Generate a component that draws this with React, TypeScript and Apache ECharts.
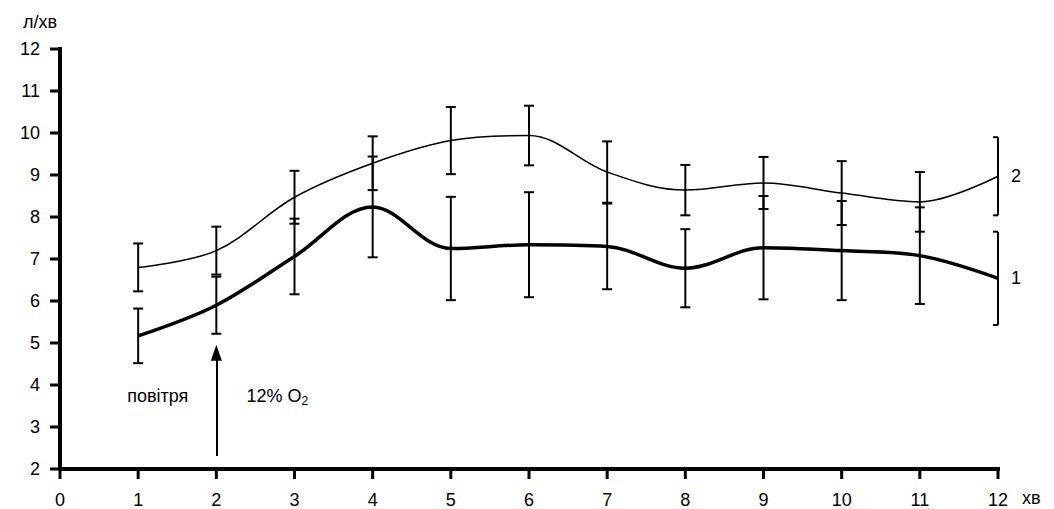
import React, { useEffect, useRef } from "react";
import * as echarts from "echarts";

const minutes = [1, 2, 3, 4, 5, 6, 7, 8, 9, 10, 11, 12];
const air12Mean = [5.17, 5.9, 7.06, 8.24, 7.25, 7.34, 7.3, 6.78, 7.27, 7.2, 7.08, 6.54];
const air12Err = [0.65, 0.68, 0.9, 1.2, 1.23, 1.25, 1.02, 0.93, 1.23, 1.18, 1.15, 1.11];
const line2Mean = [6.8, 7.2, 8.47, 9.28, 9.82, 9.94, 9.07, 8.64, 8.81, 8.57, 8.36, 8.97];
const line2Err = [0.57, 0.57, 0.63, 0.64, 0.8, 0.71, 0.73, 0.6, 0.62, 0.76, 0.71, 0.93];
const xTickValues = [0, 1, 2, 3, 4, 5, 6, 7, 8, 9, 10, 11, 12];
const yTickValues = [2, 3, 4, 5, 6, 7, 8, 9, 10, 11, 12];
const seriesLabels = ["1", "2"];
const arrowFrom = [2, 2.31];
const arrowTo = [2, 4.77];
const noteAir = { text: "повітря", at: [1.25, 3.75] };
const noteGas = { text: "12% O{sub|2}", at: [2.78, 3.75] };

const FONT = "'Liberation Sans', Arial, sans-serif";
const X_MIN = xTickValues[0];
const X_MAX = xTickValues[xTickValues.length - 1];
const Y_MIN = yTickValues[0];
const Y_MAX = yTickValues[yTickValues.length - 1];

function errRows(mean: number[], err: number[]) {
  return minutes.map((m, i) => [m, mean[i] - err[i], mean[i] + err[i]]);
}

function errRender(params: any, api: any) {
  const x = api.value(0);
  const lo = api.value(1);
  const hi = api.value(2);
  const top = api.coord([x, hi]);
  const bot = api.coord([x, lo]);
  const last = x === minutes[minutes.length - 1];
  const l = 5;
  const r = last ? 0 : 5;
  const style = { stroke: "#000", lineWidth: 2 };
  return {
    type: "group",
    children: [
      { type: "line", shape: { x1: top[0], y1: top[1], x2: bot[0], y2: bot[1] }, style },
      { type: "line", shape: { x1: top[0] - l, y1: top[1], x2: top[0] + r, y2: top[1] }, style },
      { type: "line", shape: { x1: bot[0] - l, y1: bot[1], x2: bot[0] + r, y2: bot[1] }, style },
    ],
  };
}

const axisRows = [
  ...xTickValues.map((v) => [v, Y_MIN, 0]),
  ...yTickValues.map((v) => [X_MIN, v, 1]),
];

function axisRender(params: any, api: any) {
  const p = api.coord([api.value(0), api.value(1)]);
  const isY = api.value(2) === 1;
  const tickStyle = { stroke: "#000", lineWidth: 3 };
  const children: any[] = [
    isY
      ? { type: "line", shape: { x1: p[0] - 10, y1: p[1], x2: p[0], y2: p[1] }, style: tickStyle }
      : { type: "line", shape: { x1: p[0], y1: p[1], x2: p[0], y2: p[1] + 10 }, style: tickStyle },
  ];
  if (params.dataIndex === 0) {
    const o = api.coord([X_MIN, Y_MIN]);
    const xe = api.coord([X_MAX, Y_MIN]);
    const ye = api.coord([X_MIN, Y_MAX]);
    const lineStyle = { stroke: "#000", lineWidth: 4, lineCap: "square" };
    children.push({ type: "line", shape: { x1: o[0], y1: o[1], x2: xe[0], y2: xe[1] }, style: lineStyle });
    children.push({ type: "line", shape: { x1: o[0], y1: o[1], x2: ye[0], y2: ye[1] }, style: lineStyle });
  }
  return { type: "group", children };
}

function makeAxis(isX: boolean) {
  const vals = isX ? xTickValues : yTickValues;
  return {
    type: "value",
    position: isX ? "bottom" : "left",
    min: vals[0],
    max: vals[vals.length - 1],
    interval: vals[1] - vals[0],
    name: isX ? "хв" : "л/хв",
    nameLocation: "end",
    nameGap: isX ? 24 : 18,
    nameTextStyle: isX
      ? { color: "#000", fontSize: 18, fontFamily: FONT, align: "left", verticalAlign: "top", padding: [20, 0, 0, 0] }
      : { color: "#000", fontSize: 18, fontFamily: FONT, align: "right", padding: [0, 3, 0, 0] },
    axisLine: { show: false, onZero: false },
    axisTick: { show: false },
    axisLabel: { show: true, color: "#000", fontSize: 18, fontFamily: FONT, margin: isX ? 22 : 20 },
    splitLine: { show: false },
  };
}

export default function App() {
  const ref = useRef<HTMLDivElement>(null);
  useEffect(() => {
    if (!ref.current) return;
    const chart = echarts.init(ref.current, null, { renderer: "svg" });
    chart.setOption({
      animation: false,
      backgroundColor: "#fff",
      grid: { left: 60, right: 56, top: 49, bottom: 37 },
      xAxis: makeAxis(true),
      yAxis: makeAxis(false),
      series: [
        {
          type: "custom",
          name: "axes",
          renderItem: axisRender,
          data: axisRows,
          encode: { x: 0, y: 1 },
          clip: false,
          z: 2,
          silent: true,
        },
        {
          type: "custom",
          name: "err1",
          renderItem: errRender,
          data: errRows(air12Mean, air12Err),
          encode: { x: 0, y: [1, 2] },
          z: 3,
          silent: true,
        },
        {
          type: "custom",
          name: "err2",
          renderItem: errRender,
          data: errRows(line2Mean, line2Err),
          encode: { x: 0, y: [1, 2] },
          z: 3,
          silent: true,
        },
        {
          type: "line",
          name: seriesLabels[0],
          data: minutes.map((m, i) => [m, air12Mean[i]]),
          smooth: 0.35,
          showSymbol: false,
          lineStyle: { color: "#000", width: 3.5 },
          z: 4,
          endLabel: { show: true, formatter: seriesLabels[0], distance: 13, color: "#000", fontSize: 18, fontFamily: FONT },
          markLine: {
            silent: true,
            symbol: ["none", "triangle"],
            symbolSize: [11, 16],
            label: { show: false },
            lineStyle: { color: "#000", width: 2, type: "solid" },
            data: [[{ coord: arrowFrom }, { coord: arrowTo }]],
          },
          markPoint: {
            silent: true,
            symbol: "circle",
            symbolSize: 1,
            itemStyle: { color: "rgba(0,0,0,0)" },
            label: {
              show: true,
              position: "inside",
              color: "#000",
              fontSize: 18,
              fontFamily: FONT,
              rich: { sub: { fontSize: 12, fontFamily: FONT, color: "#000", padding: [10, 0, 0, 0] } },
            },
            data: [
              { coord: noteAir.at, value: 0, label: { formatter: noteAir.text } },
              { coord: noteGas.at, value: 0, label: { formatter: noteGas.text } },
            ],
          },
        },
        {
          type: "line",
          name: seriesLabels[1],
          data: minutes.map((m, i) => [m, line2Mean[i]]),
          smooth: 0.35,
          showSymbol: false,
          lineStyle: { color: "#000", width: 1.5 },
          z: 4,
          endLabel: { show: true, formatter: seriesLabels[1], distance: 13, color: "#000", fontSize: 18, fontFamily: FONT },
        },
      ],
    });
    return () => chart.dispose();
  }, []);
  return <div ref={ref} style={{ width: 1054, height: 509, position: "absolute", left: 0, top: 0 }} />;
}
